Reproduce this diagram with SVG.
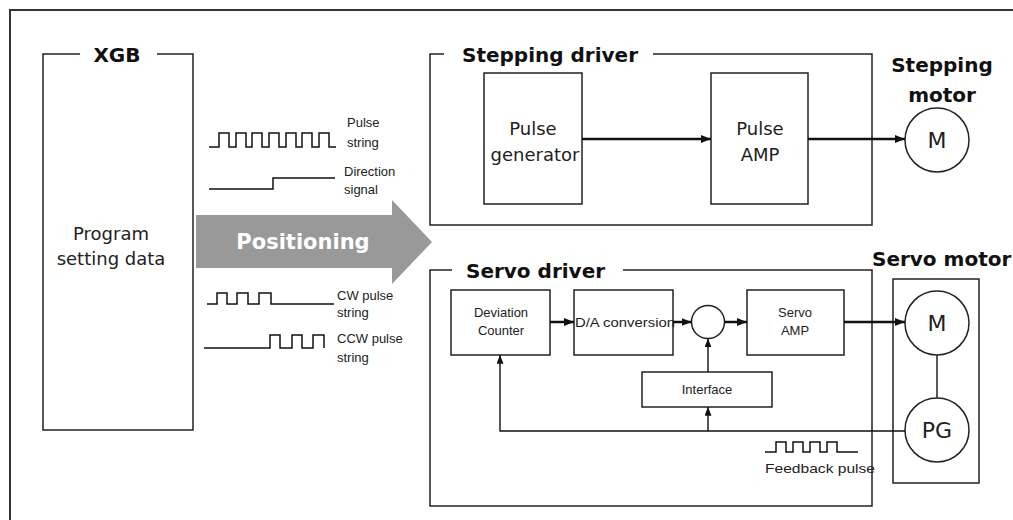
<svg xmlns="http://www.w3.org/2000/svg" width="1013" height="520" viewBox="0 0 1013 520">
<defs>
<marker id="ah" viewBox="0 0 10 8" refX="10" refY="4" markerWidth="10" markerHeight="8" markerUnits="userSpaceOnUse" orient="auto"><path d="M0,0 L10,4 L0,8 z" fill="#111"/></marker>
<marker id="ahs" viewBox="0 0 10 8" refX="10" refY="4" markerWidth="9" markerHeight="7" markerUnits="userSpaceOnUse" orient="auto"><path d="M0,0 L10,4 L0,8 z" fill="#111"/></marker>
</defs>
<style>
.box{fill:#fff;stroke:#222;stroke-width:1.5}
.frame{fill:none;stroke:#222;stroke-width:1.5}
.title{font-family:"DejaVu Sans",sans-serif;font-weight:bold;font-size:20px;fill:#111}
.big{font-family:"DejaVu Sans",sans-serif;font-size:18px;fill:#222;text-anchor:middle}
.sm{font-family:"Liberation Sans",Arial,sans-serif;font-size:13px;fill:#222}
.smc{font-family:"Liberation Sans",Arial,sans-serif;font-size:13px;fill:#222;text-anchor:middle}
.mot{font-family:"DejaVu Sans",sans-serif;font-size:22px;fill:#222;text-anchor:middle}
.thick{fill:none;stroke:#111;stroke-width:2.5}
.thin{fill:none;stroke:#111;stroke-width:1.4}
.wave{fill:none;stroke:#111;stroke-width:1.5}
</style>
<rect width="1013" height="520" fill="#fff"/>
<!-- outer frame -->
<path d="M10,520 V10 H1013" fill="none" stroke="#333" stroke-width="2"/>

<g id="xgb">
<path class="frame" d="M80,54 H43 V430 H193 V54 H157"/>
<text class="title" x="117" y="62" text-anchor="middle">XGB</text>
<text class="big" x="111" y="240" font-size="19">Program</text>
<text class="big" x="111" y="265" font-size="19">setting data</text>
</g>

<g id="positioning">
<path d="M196,215 H392 V200 L432,242 L392,284 V268 H196 z" fill="#999"/>
<text x="303" y="249" font-family="DejaVu Sans,sans-serif" font-weight="bold" font-size="21" fill="#fff" text-anchor="middle">Positioning</text>
</g>

<g id="signals">
<path class="wave" d="M209,147 H219 V133 H229 V147 H236 V133 H246 V147 H252 V133 H262 V147 H269 V133 H279 V147 H286 V133 H296 V147 H302 V133 H312 V147 H319 V133 H329 V147 H336"/>
<text class="sm" x="347" y="127">Pulse</text>
<text class="sm" x="347" y="147">string</text>
<path class="wave" d="M209,189 H273 V178 H335"/>
<text class="sm" x="344" y="176">Direction</text>
<text class="sm" x="344" y="194">signal</text>
<path class="wave" d="M207,304 H217 V293 H227 V304 H237 V293 H248 V304 H259 V293 H271 V304 H334"/>
<text class="sm" x="337" y="300">CW pulse</text>
<text class="sm" x="337" y="317">string</text>
<path class="wave" d="M204,348 H270 V335 H280 V348 H292 V335 H302 V348 H313 V335 H324 V348"/>
<text class="sm" x="337" y="343">CCW pulse</text>
<text class="sm" x="337" y="362">string</text>
</g>

<g id="stepping-driver">
<path class="frame" d="M444,54 H430 V225 H872 V54 H653"/>
<text class="title" x="462" y="62">Stepping driver</text>
</g>
<g id="pulse-generator">
<rect class="box" x="484" y="73" width="98" height="131"/>
<text class="big" x="533" y="135">Pulse</text>
<text class="big" x="535" y="161">generator</text>
</g>
<g id="pulse-amp">
<rect class="box" x="711" y="73" width="97" height="131"/>
<text class="big" x="760" y="135">Pulse</text>
<text class="big" x="760" y="161">AMP</text>
</g>
<g id="stepping-motor">
<text class="title" x="942" y="72" text-anchor="middle">Stepping</text>
<text class="title" x="942" y="102" text-anchor="middle">motor</text>
<circle class="box" cx="937" cy="140" r="32"/>
<text class="mot" x="937" y="148">M</text>
</g>

<g id="servo-driver">
<path class="frame" d="M452,270 H430 V506 H872 V270 H623"/>
<text class="title" x="466" y="278" font-size="21">Servo driver</text>
</g>
<g id="deviation-counter">
<rect class="box" x="451" y="290" width="99" height="65"/>
<text class="smc" x="501" y="317">Deviation</text>
<text class="smc" x="501" y="335">Counter</text>
</g>
<g id="da-conversion">
<rect class="box" x="574" y="290" width="99" height="65"/>
<text class="sm" x="575" y="327" font-size="14" textLength="100" lengthAdjust="spacingAndGlyphs">D/A conversion</text>
</g>
<g id="sum">
<circle class="box" cx="708" cy="322" r="16.5"/>
</g>
<g id="servo-amp">
<rect class="box" x="747" y="290" width="97" height="65"/>
<text class="smc" x="795" y="317">Servo</text>
<text class="smc" x="795" y="335">AMP</text>
</g>
<g id="interface">
<rect class="box" x="642" y="372" width="130" height="35"/>
<text class="smc" x="707" y="394">Interface</text>
</g>
<g id="feedback">
<path class="wave" d="M765,452 H776 V442 H786 V452 H793 V442 H803 V452 H810 V442 H820 V452 H827 V442 H837 V452 H858"/>
<text class="sm" x="765" y="473" font-size="14" textLength="110" lengthAdjust="spacingAndGlyphs">Feedback pulse</text>
</g>

<g id="servo-motor">
<text class="title" x="872" y="266" font-size="21">Servo motor</text>
<rect class="box" x="893" y="279" width="86" height="204" fill="none"/>
<line x1="937" y1="355" x2="937" y2="398" stroke="#222" stroke-width="1.5"/>
<circle class="box" cx="937" cy="323" r="32"/>
<text class="mot" x="937" y="331">M</text>
<circle class="box" cx="937" cy="430" r="32"/>
<text class="mot" x="937" y="438">PG</text>
</g>

<g id="connectors">
<line class="thick" x1="582" y1="139" x2="711" y2="139" marker-end="url(#ah)"/>
<line class="thick" x1="808" y1="139" x2="905" y2="139" marker-end="url(#ah)"/>
<line class="thick" x1="550" y1="322" x2="574" y2="322" marker-end="url(#ah)"/>
<line class="thick" x1="673" y1="322" x2="691.5" y2="322" marker-end="url(#ah)"/>
<line class="thick" x1="724.5" y1="322" x2="747" y2="322" marker-end="url(#ah)"/>
<line class="thick" x1="844" y1="322" x2="905" y2="322" marker-end="url(#ah)"/>
<line class="thin" x1="708" y1="372" x2="708" y2="338.5" marker-end="url(#ahs)"/>
<line class="thin" x1="708" y1="431" x2="708" y2="407" marker-end="url(#ahs)"/>
<path class="thin" d="M905,431 H500 V355" marker-end="url(#ahs)"/>
</g>
</svg>
